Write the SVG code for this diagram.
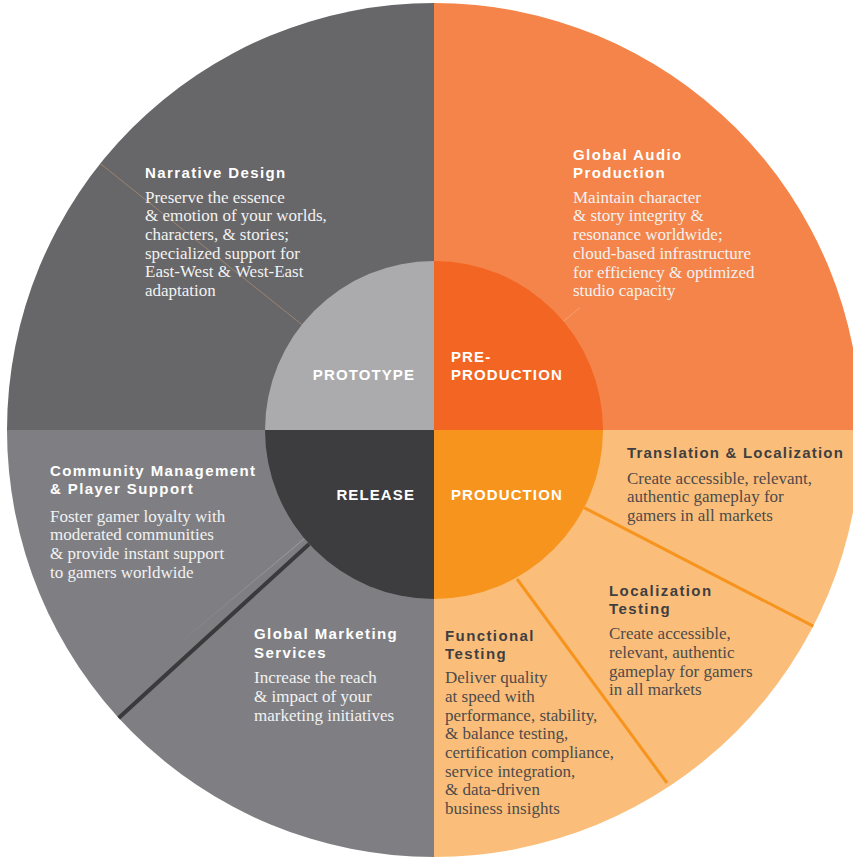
<svg xmlns="http://www.w3.org/2000/svg" width="853" height="859" viewBox="0 0 853 859">
<defs>
<linearGradient id="fade" gradientUnits="userSpaceOnUse" x1="304.5" y1="538.6" x2="170" y2="651">
<stop offset="0" stop-color="#a3a3a7" stop-opacity="0.9"/>
<stop offset="1" stop-color="#a3a3a7" stop-opacity="0"/>
</linearGradient>
</defs>
<style>
.h{font-family:"Liberation Sans",Arial,sans-serif;font-weight:bold;font-size:15px;letter-spacing:1.4px}
.b{font-family:"Liberation Serif","Times New Roman",serif;font-size:17px}
.lbl{font-family:"Liberation Sans",Arial,sans-serif;font-weight:bold;font-size:15px;letter-spacing:1.1px;fill:#fff}
.w{fill:#fff}
.wb{fill:#f2f2f2}
.d{fill:#3f3f41}
.db{fill:#4d4b4a}
</style>
<rect width="853" height="859" fill="#fff"/>
<g id="outer-quadrants">
<path d="M434,430 L434,3 A427,427 0 0 0 7,430 Z" fill="#676668"/>
<path d="M434,430 L861,430 A427,427 0 0 0 434,3 Z" fill="#F4844A"/>
<path d="M434,430 L434,857 A427,427 0 0 0 861,430 Z" fill="#FBBE7A"/>
<path d="M434,430 L7,430 A427,427 0 0 0 434,857 Z" fill="#7F7F83"/>
</g>
<g id="connectors">
<line x1="301.9" y1="324.6" x2="100.3" y2="163.6" stroke="#9b8570" stroke-width="1"/>
<line x1="563.5" y1="321.4" x2="580" y2="307.5" stroke="#f9a77a" stroke-width="1" opacity="0.8"/>
<line x1="304.5" y1="538.6" x2="170" y2="651" stroke="url(#fade)" stroke-width="1"/>
<line x1="309.2" y1="544" x2="118.7" y2="717.9" stroke="#3a3a3c" stroke-width="4"/>
<line x1="584.1" y1="507.6" x2="813.3" y2="626.2" stroke="#F7941D" stroke-width="3"/>
<line x1="517" y1="579" x2="667" y2="783" stroke="#F7941D" stroke-width="3"/>
</g>
<g id="prototype">
<path d="M434,430 L434,261 A169,169 0 0 0 265,430 Z" fill="#ABABAE"/>
<text class="lbl" x="415" y="379.5" text-anchor="end">PROTOTYPE</text>
</g>
<g id="pre-production">
<path d="M434,430 L603,430 A169,169 0 0 0 434,261 Z" fill="#F26522"/>
<text class="lbl" x="451" y="361.5">PRE-</text>
<text class="lbl" x="451" y="379.5">PRODUCTION</text>
</g>
<g id="production">
<path d="M434,430 L434,599 A169,169 0 0 0 603,430 Z" fill="#F7941E"/>
<text class="lbl" x="451" y="499.5">PRODUCTION</text>
</g>
<g id="release">
<path d="M434,430 L265,430 A169,169 0 0 0 434,599 Z" fill="#3D3D3F"/>
<text class="lbl" x="415" y="499.5" text-anchor="end">RELEASE</text>
</g>
<g id="narrative-design">
<text class="h w" x="145" y="177.5">Narrative Design</text>
<text class="b wb" x="145" y="202.5">Preserve the essence</text>
<text class="b wb" x="145" y="221.2">&amp; emotion of your worlds,</text>
<text class="b wb" x="145" y="239.9">characters, &amp; stories;</text>
<text class="b wb" x="145" y="258.6">specialized support for</text>
<text class="b wb" x="145" y="277.3">East-West &amp; West-East</text>
<text class="b wb" x="145" y="296">adaptation</text>
</g>
<g id="global-audio-production">
<text class="h w" x="573" y="159.5">Global Audio</text>
<text class="h w" x="573" y="178.3">Production</text>
<text class="b wb" x="573" y="202.7">Maintain character</text>
<text class="b wb" x="573" y="221.4">&amp; story integrity &amp;</text>
<text class="b wb" x="573" y="240.1">resonance worldwide;</text>
<text class="b wb" x="573" y="258.8">cloud-based infrastructure</text>
<text class="b wb" x="573" y="277.5">for efficiency &amp; optimized</text>
<text class="b wb" x="573" y="296.2">studio capacity</text>
</g>
<g id="translation-localization">
<text class="h d" x="627" y="457.5" style="letter-spacing:1.2px">Translation &amp; Localization</text>
<text class="b db" x="627" y="484">Create accessible, relevant,</text>
<text class="b db" x="627" y="502.4">authentic gameplay for</text>
<text class="b db" x="627" y="520.8">gamers in all markets</text>
</g>
<g id="localization-testing">
<text class="h d" x="609" y="595.7">Localization</text>
<text class="h d" x="609" y="614.3">Testing</text>
<text class="b db" x="609" y="639.3">Create accessible,</text>
<text class="b db" x="609" y="658">relevant, authentic</text>
<text class="b db" x="609" y="676.7">gameplay for gamers</text>
<text class="b db" x="609" y="695.3">in all markets</text>
</g>
<g id="functional-testing">
<text class="h d" x="445" y="640.7">Functional</text>
<text class="h d" x="445" y="659.3">Testing</text>
<text class="b db" x="445" y="683.3">Deliver quality</text>
<text class="b db" x="445" y="702">at speed with</text>
<text class="b db" x="445" y="720.7">performance, stability,</text>
<text class="b db" x="445" y="739.4">&amp; balance testing,</text>
<text class="b db" x="445" y="758">certification compliance,</text>
<text class="b db" x="445" y="776.7">service integration,</text>
<text class="b db" x="445" y="795.4">&amp; data-driven</text>
<text class="b db" x="445" y="814">business insights</text>
</g>
<g id="community-management">
<text class="h w" x="50" y="475.7">Community Management</text>
<text class="h w" x="50" y="494.3">&amp; Player Support</text>
<text class="b wb" x="50" y="521.7">Foster gamer loyalty with</text>
<text class="b wb" x="50" y="540.4">moderated communities</text>
<text class="b wb" x="50" y="559.1">&amp; provide instant support</text>
<text class="b wb" x="50" y="577.8">to gamers worldwide</text>
</g>
<g id="global-marketing-services">
<text class="h w" x="254" y="639.3">Global Marketing</text>
<text class="h w" x="254" y="658.3">Services</text>
<text class="b wb" x="254" y="683.3">Increase the reach</text>
<text class="b wb" x="254" y="702">&amp; impact of your</text>
<text class="b wb" x="254" y="720.7">marketing initiatives</text>
</g>
</svg>
